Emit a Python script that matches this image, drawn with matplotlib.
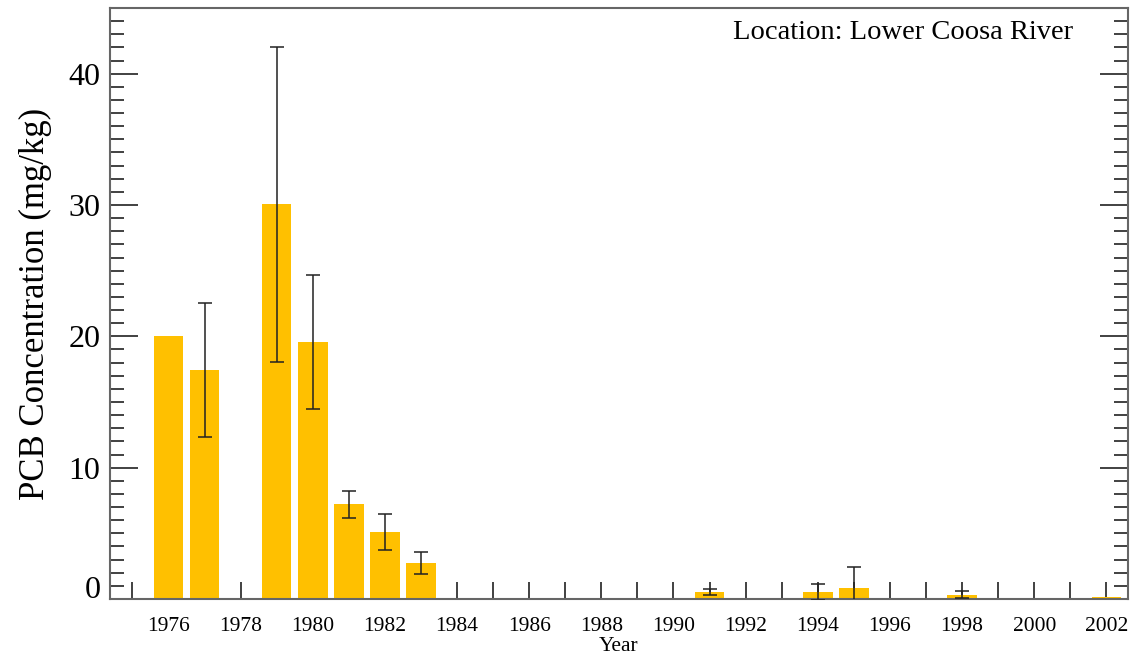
import matplotlib
matplotlib.use("Agg")
import matplotlib.pyplot as plt
import matplotlib.transforms as mtransforms
from matplotlib.ticker import MultipleLocator

years = [1976, 1977, 1979, 1980, 1981, 1982, 1983, 1991, 1994, 1995, 1998, 2002]
values = [20.0, 17.4, 30.05, 19.6, 7.2, 5.1, 2.75, 0.53, 0.55, 0.86, 0.33, 0.17]
errors = [0.0, 5.1, 12.0, 5.1, 1.03, 1.4, 0.85, 0.2, 0.6, 1.57, 0.27, 0.0]
location = "Location: Lower Coosa River"

plt.rcParams['font.family'] = ['Liberation Serif', 'DejaVu Serif']

fig = plt.figure(figsize=(11.35, 6.58), dpi=100)
ax = fig.add_axes([110/1135, 1-599/658, (1128-110)/1135, (599-8)/658])

err_years = [y for y, e in zip(years, errors) if e > 0]
err_vals = [v for v, e in zip(values, errors) if e > 0]
err_errs = [e for e in errors if e > 0]

ax.bar(years, values, width=0.82, color='#FFC000', zorder=2)
ax.errorbar(err_years, err_vals, yerr=err_errs, fmt='none', ecolor='#222222',
            elinewidth=1.1, capsize=5, capthick=1.1, zorder=3)

ax.set_xlim(1974.38, 2002.6)
ax.set_ylim(0, 45)

ax.xaxis.set_major_locator(MultipleLocator(2))
ax.xaxis.set_minor_locator(MultipleLocator(1))
ax.yaxis.set_major_locator(MultipleLocator(10))
ax.yaxis.set_minor_locator(MultipleLocator(1))

ax.tick_params(axis='x', which='both', direction='in', length=12, width=1.3,
               color='#333333', labelsize=15.5, pad=13, top=False)
ax.tick_params(axis='y', which='major', direction='in', length=20, width=1.3,
               color='#333333', labelsize=23, pad=7, left=True, right=True)
ax.tick_params(axis='y', which='minor', direction='in', length=10, width=1.3,
               color='#333333', left=True, right=True)

for s in ax.spines.values():
    s.set_color('#666666')
    s.set_linewidth(1.5)

fig.canvas.draw()
for lab in ax.get_yticklabels():
    if lab.get_text() in ('0',):
        lab.set_transform(lab.get_transform() +
                          mtransforms.ScaledTranslation(0, 12/100, fig.dpi_scale_trans))

ax.set_xlabel("Year", fontsize=15.5, labelpad=1)
ax.set_ylabel("PCB Concentration (mg/kg)", fontsize=25, labelpad=12)

ax.text(0.9465, 0.958, location, transform=ax.transAxes, ha='right', va='center',
        fontsize=20.5)

fig.savefig("out.png", dpi=100)
